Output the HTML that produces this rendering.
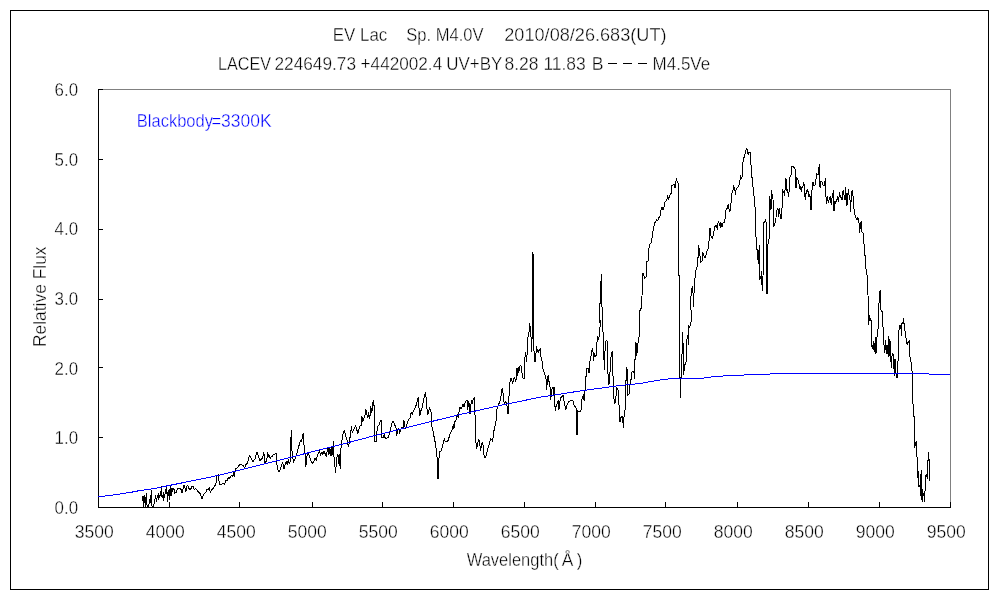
<!DOCTYPE html>
<html><head><meta charset="utf-8"><title>EV Lac spectrum</title>
<style>
html,body{margin:0;padding:0;background:#fff;}
body{width:1000px;height:600px;overflow:hidden;}
svg{display:block;}
text{font-family:"Liberation Sans",sans-serif;}
.thin{opacity:0.999;}
.thin text{stroke:#fff;stroke-width:0.35px;}
</style></head><body>
<svg width="1000" height="600" viewBox="0 0 1000 600">
<rect x="0" y="0" width="1000" height="600" fill="#fff"/>
<g shape-rendering="crispEdges">
<rect x="10.5" y="10.5" width="978" height="579" fill="none" stroke="#000" stroke-width="1"/>
<rect x="98" y="89" width="853" height="1" fill="#808080"/>
<rect x="950" y="89" width="1" height="419" fill="#808080"/>
<rect x="98" y="89" width="1" height="419" fill="#000"/>
<rect x="98" y="507" width="853" height="1" fill="#000"/>
<rect x="169" y="502" width="1" height="5"/><rect x="239" y="502" width="1" height="5"/><rect x="312" y="502" width="1" height="5"/><rect x="382" y="502" width="1" height="5"/><rect x="453" y="502" width="1" height="5"/><rect x="524" y="502" width="1" height="5"/><rect x="595" y="502" width="1" height="5"/><rect x="665" y="502" width="1" height="5"/><rect x="737" y="502" width="1" height="5"/><rect x="808" y="502" width="1" height="5"/><rect x="879" y="502" width="1" height="5"/><rect x="950" y="502" width="1" height="5"/><rect x="99" y="437" width="4" height="1"/><rect x="99" y="367" width="4" height="1"/><rect x="99" y="299" width="4" height="1"/><rect x="99" y="229" width="4" height="1"/><rect x="99" y="159" width="4" height="1"/><rect x="99" y="89" width="4" height="1"/>
<rect x="608" y="63" width="9" height="1"/><rect x="623" y="63" width="9" height="1"/><rect x="638" y="63" width="9" height="1"/>
</g>
<polyline shape-rendering="crispEdges" fill="none" stroke="#000" stroke-width="1" stroke-linejoin="miter" points="142.5,495.5 142.5,501.0 143.5,496.0 143.8,506.5 144.5,495.5 145.5,499.0 145.8,506.5 146.5,493.0 146.8,504.0 147.5,506.5 148.5,506.0 149.5,502.0 150.5,495.5 150.5,503.0 151.5,490.0 151.5,505.0 152.5,506.5 153.5,506.5 154.5,502.0 155.5,497.0 156.5,500.0 157.5,496.0 158.5,493.5 158.5,500.0 159.5,496.0 160.5,495.0 161.5,486.5 161.5,496.0 162.5,497.0 163.5,492.5 163.5,501.0 164.5,496.0 165.5,492.0 166.5,486.5 166.5,493.0 167.5,492.5 167.5,502.0 168.5,491.0 169.5,489.5 169.5,500.0 170.5,486.5 170.5,496.0 171.5,488.5 171.5,496.0 172.5,488.5 173.5,489.0 174.5,489.5 174.5,493.0 176.5,492.5 177.5,488.5 178.5,488.5 180.5,489.0 181.5,490.0 181.5,493.0 182.5,491.0 182.5,493.0 183.5,485.5 184.5,485.5 185.8,492.3 187.0,485.7 188.2,486.0 189.2,489.0 190.8,489.3 191.8,486.0 193.0,486.0 194.2,489.3 195.7,488.7 197.2,490.5 198.7,492.3 200.2,493.5 201.2,496.5 202.0,499.1 203.2,495.0 204.2,493.5 205.8,492.8 206.8,489.8 208.0,489.3 209.2,488.2 210.4,492.3 211.8,489.8 212.9,488.7 214.0,486.8 215.2,485.2 216.2,482.2 217.0,476.2 218.2,474.8 218.8,480.0 219.7,484.2 221.5,484.2 223.0,483.8 224.5,484.2 226.0,480.0 227.2,480.8 228.2,477.8 229.3,478.5 230.5,476.7 231.7,475.2 232.8,476.2 233.8,473.2 234.6,477.0 235.0,471.0 235.8,468.8 237.2,467.7 238.8,465.8 240.2,464.2 241.8,464.7 243.2,465.8 244.8,467.7 245.5,465.0 247.0,463.5 248.2,460.5 249.2,455.7 250.3,456.0 251.5,459.3 253.0,462.3 254.2,459.8 255.4,458.7 256.4,452.7 257.5,452.7 258.7,457.5 259.9,460.8 261.2,459.3 262.8,457.8 263.5,452.2 264.2,454.8 265.0,463.5 266.5,460.5 267.7,453.8 268.8,456.0 269.8,455.2 270.0,458.2 271.5,457.5 273.0,454.8 275.2,453.8 276.3,453.8 276.8,463.5 278.2,471.0 279.8,471.0 280.8,467.2 281.7,465.0 282.8,462.0 283.8,469.2 285.0,465.0 286.2,462.0 287.2,464.2 288.3,460.2 289.2,463.5 290.2,462.0 290.7,442.5 291.4,430.5 291.9,450.0 292.5,457.5 293.7,462.0 294.8,459.8 295.8,456.8 297.0,453.0 298.2,448.5 299.2,444.8 300.4,441.0 301.5,441.8 302.7,435.0 303.3,433.5 303.8,444.0 304.5,448.5 305.4,457.5 305.7,467.2 306.4,462.0 307.2,454.5 308.2,453.0 309.3,456.0 310.5,459.8 311.7,462.0 312.8,463.2 313.8,462.0 315.0,458.2 316.2,459.8 317.2,456.0 318.3,453.8 319.5,451.5 320.7,454.8 321.8,452.2 322.8,454.2 324.0,451.5 325.2,453.8 326.2,456.0 327.3,450.0 328.2,447.8 328.9,455.2 329.7,447.8 330.4,456.0 331.2,447.0 331.9,456.0 332.7,450.0 333.4,441.0 333.9,456.0 334.8,465.0 335.6,473.2 336.4,462.0 337.2,456.0 337.9,453.8 338.7,463.5 339.4,454.5 340.2,468.8 340.8,450.0 341.7,442.5 342.8,435.0 343.8,431.2 344.6,430.5 345.4,435.0 346.5,438.0 347.6,441.8 348.4,447.0 349.5,441.0 350.6,433.5 351.4,426.0 352.2,432.8 353.2,430.5 354.3,428.2 355.5,426.0 356.7,429.0 357.8,434.2 358.8,429.8 360.0,426.0 361.2,425.2 361.9,416.2 362.7,422.2 363.8,418.5 364.8,417.0 365.7,408.8 366.8,414.0 367.8,417.8 368.7,412.5 369.4,418.5 370.2,414.8 370.8,406.5 371.7,412.5 372.4,408.8 373.2,399.8 373.9,402.8 374.6,420.0 374.6,441.0 376.2,441.0 376.8,432.0 377.7,426.0 378.8,425.2 379.9,422.2 381.0,420.0 381.4,429.0 381.8,437.2 383.2,437.7 384.3,434.2 385.2,438.3 386.7,438.0 388.5,437.2 389.7,432.8 390.8,427.5 391.8,423.8 393.0,421.5 394.2,423.0 395.2,426.0 396.3,429.0 396.8,435.8 397.5,430.5 398.7,429.0 399.8,432.8 400.8,429.8 402.0,426.8 403.2,427.5 403.9,420.0 404.7,424.5 405.4,429.0 406.5,425.2 407.7,422.2 409.2,418.5 410.0,417.8 411.2,412.5 412.2,414.0 413.3,411.0 414.5,409.5 415.7,406.5 416.8,402.8 418.2,397.5 419.0,408.0 419.8,415.5 420.8,411.0 422.0,408.0 423.2,402.0 424.2,396.8 425.4,392.2 426.2,399.0 426.9,408.0 427.7,414.8 428.8,411.0 429.5,408.0 430.6,409.5 431.3,414.0 431.8,426.0 432.8,429.8 433.7,435.0 434.8,440.2 435.8,446.2 436.7,454.5 437.4,460.5 437.8,478.5 438.2,478.5 438.5,463.5 439.2,456.0 440.0,451.5 441.2,450.8 442.2,447.8 443.3,443.2 444.5,438.0 445.2,441.8 446.8,441.8 448.2,440.2 449.8,435.0 451.2,431.2 452.8,428.2 453.2,423.8 453.9,429.0 455.0,421.5 456.2,420.0 457.2,414.8 458.3,417.8 459.2,411.0 459.9,407.2 461.0,408.8 462.1,406.5 463.2,404.2 464.0,406.5 465.1,402.8 466.2,400.5 467.0,399.8 467.8,409.5 468.5,401.2 469.2,404.2 470.0,414.0 470.8,405.8 471.5,400.5 472.2,404.2 473.3,399.0 474.5,397.5 474.9,412.5 475.6,427.5 476.0,442.5 476.8,448.5 477.5,444.0 478.7,438.8 479.8,443.2 480.5,450.8 481.7,444.0 482.8,442.5 483.5,449.2 484.2,457.5 485.0,458.2 486.2,456.0 487.2,451.5 488.3,447.0 489.5,443.2 490.7,438.8 491.8,439.5 492.5,441.0 493.2,436.5 494.0,430.5 495.2,425.2 496.2,420.0 496.8,410.0 498.2,405.5 499.8,401.8 500.8,398.0 501.7,390.5 502.4,388.2 503.2,395.0 504.2,403.2 505.8,401.8 506.8,404.0 507.9,414.1 508.6,410.0 509.2,389.0 509.9,383.0 510.7,378.5 511.8,379.2 512.5,383.8 513.7,378.5 514.8,377.8 515.8,381.5 516.7,376.2 517.0,368.0 517.8,375.5 518.5,367.2 519.2,371.0 520.0,365.8 520.8,365.0 521.8,371.8 523.0,377.8 524.2,378.5 524.8,359.0 525.4,352.2 526.0,356.8 526.8,362.0 527.5,338.8 528.2,336.5 529.0,332.0 529.8,323.0 530.5,331.2 531.2,339.5 531.7,351.5 532.5,320.0 532.5,252.5 533.5,256.0 533.8,320.0 533.8,347.0 534.2,354.5 535.0,362.0 535.8,356.0 536.5,346.2 537.2,350.0 538.3,352.2 539.2,350.0 540.2,349.2 540.7,356.0 541.8,359.8 542.5,365.0 543.2,370.2 544.3,372.5 545.5,377.0 546.2,380.0 546.7,389.8 547.5,378.5 548.2,375.5 549.0,381.5 549.7,384.5 550.5,390.5 550.8,399.5 551.5,392.0 552.2,388.2 553.0,386.8 553.8,395.0 554.2,386.8 554.8,405.5 555.5,411.0 556.2,405.0 557.3,403.5 558.2,399.8 559.0,409.5 559.7,402.0 560.8,397.5 561.8,396.8 563.0,395.2 563.8,400.5 564.8,405.0 565.7,409.5 566.8,405.8 567.8,403.5 569.3,401.2 570.8,400.5 572.3,400.2 573.5,401.2 574.2,405.8 575.8,407.2 576.5,411.0 576.8,434.2 577.7,434.2 578.0,411.0 579.2,411.8 580.7,411.8 581.8,406.5 581.2,401.8 582.2,398.0 583.3,395.8 584.2,401.0 584.8,390.5 585.5,389.0 586.3,369.5 587.2,368.0 588.2,368.8 589.0,373.2 589.8,362.0 590.8,357.5 591.7,351.5 592.8,347.8 593.5,360.5 594.2,353.0 595.0,356.8 596.2,355.2 597.0,342.5 597.7,336.5 598.5,340.2 599.2,335.8 600.0,327.5 600.7,320.0 599.5,322.0 599.5,304.0 600.5,303.0 600.5,287.0 601.5,274.5 601.6,305.0 602.5,309.0 602.8,326.0 603.7,350.0 604.3,369.5 605.2,347.0 606.0,341.0 607.0,340.2 607.5,365.0 608.2,377.0 609.0,384.5 609.7,378.5 610.3,366.5 611.2,354.5 612.2,351.5 612.7,365.0 613.3,386.0 613.8,398.0 614.8,404.0 615.7,401.0 616.5,387.5 617.5,388.2 618.2,390.5 618.8,403.5 619.7,411.0 620.0,422.2 620.8,417.8 621.8,416.2 622.7,417.8 623.3,427.5 624.0,417.0 624.8,412.5 625.5,405.0 625.8,384.5 626.7,367.2 627.5,371.0 627.8,395.0 629.2,393.5 630.0,384.5 631.2,378.5 632.0,371.8 633.8,371.0 634.5,378.5 634.2,362.0 635.2,359.0 636.0,342.5 636.8,356.0 637.5,347.0 638.2,341.0 639.3,335.0 639.8,320.0 639.8,311.0 641.2,308.0 642.0,296.0 642.5,273.5 643.5,273.5 644.5,278.0 646.0,277.2 646.5,262.2 648.0,260.8 648.8,248.8 649.5,245.0 651.0,242.8 652.2,237.5 653.2,230.0 654.5,223.2 656.0,221.0 656.8,219.5 657.8,221.0 658.7,218.0 660.2,215.8 660.8,210.5 662.0,207.5 663.2,209.8 664.2,206.8 665.0,202.2 666.5,200.8 667.7,196.2 668.8,199.2 669.5,195.5 671.3,193.2 671.8,185.8 673.2,184.7 674.3,184.2 675.0,188.0 675.8,182.0 676.5,179.3 677.5,182.0 678.5,183.5 678.5,184.0 678.5,275.0 679.5,276.0 679.5,377.0 680.5,378.0 680.5,397.5 680.5,397.7 681.0,380.0 681.8,363.5 682.5,332.0 683.0,342.5 683.7,374.8 684.5,365.0 685.8,363.5 686.7,357.5 687.0,339.5 687.8,335.0 688.5,344.8 688.8,326.0 689.7,327.5 690.8,323.8 691.2,320.0 690.8,299.0 691.5,288.5 692.7,287.0 693.8,307.2 694.2,282.5 695.2,276.5 695.7,270.5 697.2,266.8 698.2,255.5 698.7,245.0 699.5,252.5 700.8,262.2 702.0,260.8 702.8,252.5 703.5,254.8 705.0,257.8 706.5,254.0 707.2,249.5 708.8,248.0 709.2,236.0 710.0,227.8 710.5,234.5 711.0,236.0 712.2,238.2 713.2,235.2 714.0,230.8 714.5,227.0 716.0,225.5 717.2,228.5 718.2,221.8 719.0,223.2 720.2,226.2 720.8,221.8 722.0,227.0 722.8,223.2 724.2,222.5 725.0,219.5 725.8,210.5 727.2,208.2 728.3,203.8 729.5,212.0 730.5,209.0 731.0,203.0 731.8,193.2 732.8,191.8 733.5,185.8 734.5,188.0 735.5,194.8 736.2,188.8 737.8,187.2 739.2,185.0 740.0,179.8 740.8,176.0 741.5,178.2 742.7,176.0 743.0,162.5 744.2,156.5 745.2,153.5 746.5,148.6 747.5,150.2 748.2,155.0 749.0,152.0 750.2,152.8 750.8,162.5 751.7,174.5 752.8,185.0 753.8,194.0 754.7,203.0 755.5,212.0 755.8,230.0 755.8,235.0 756.7,244.0 757.3,254.5 758.5,263.5 759.2,244.8 759.2,279.2 760.8,277.8 761.5,271.0 762.2,290.5 763.0,277.0 763.8,223.0 763.5,222.8 764.8,222.0 765.5,219.3 766.2,223.5 767.0,240.0 766.0,223.0 766.8,293.5 767.5,293.5 767.8,244.8 769.0,239.5 769.8,220.0 769.5,214.5 769.5,196.5 770.5,201.0 771.0,210.0 771.5,190.5 772.2,195.0 773.0,198.8 773.3,216.0 773.8,226.5 774.8,223.5 775.7,220.5 776.5,213.0 777.2,208.5 778.2,209.2 778.7,216.8 779.8,208.5 780.2,219.0 781.2,218.2 781.7,208.5 782.5,207.0 782.8,190.5 783.8,192.0 784.5,195.8 785.3,186.0 785.8,178.5 786.5,180.0 787.0,191.2 787.7,189.8 788.5,197.2 789.2,189.8 789.8,177.0 791.0,175.5 791.8,166.5 792.8,166.5 793.7,167.2 794.8,168.8 795.5,169.5 796.0,188.2 796.7,177.8 797.8,179.2 798.8,181.5 799.5,189.0 800.5,186.0 801.2,192.0 802.0,187.5 803.0,186.0 803.8,182.2 804.5,189.8 805.2,199.5 806.0,193.5 807.2,189.8 808.2,192.0 809.0,196.5 809.8,194.2 810.5,199.5 811.0,210.0 811.7,195.0 812.0,190.5 813.0,182.2 814.0,186.0 815.0,185.2 816.0,179.2 816.8,174.0 818.0,174.8 818.8,168.0 819.5,164.2 819.5,182.2 820.2,188.2 821.0,181.5 822.2,182.2 823.2,186.0 824.3,185.2 825.5,178.5 825.8,195.0 826.7,204.0 827.5,196.5 828.5,203.2 829.5,197.2 830.5,196.5 831.2,204.8 832.0,198.0 833.0,193.5 833.5,190.5 834.0,210.8 834.8,201.0 835.7,203.2 836.8,199.5 837.5,196.5 838.2,201.8 839.0,197.2 839.5,192.0 840.2,195.8 841.2,198.0 842.0,200.2 842.5,191.2 843.5,190.5 844.2,196.5 845.0,200.2 845.5,186.8 846.2,195.0 846.8,206.2 847.5,201.0 848.3,189.0 849.0,195.0 850.0,199.5 850.7,211.5 851.3,193.5 852.2,190.5 853.0,195.8 853.7,206.2 854.8,214.5 855.8,217.5 857.0,219.8 857.8,216.8 858.5,220.5 859.2,223.5 859.7,232.5 860.5,225.0 861.2,221.2 861.8,231.8 863.0,233.2 863.8,242.5 864.7,250.0 865.5,263.5 866.5,274.0 867.2,275.5 868.0,295.0 868.5,325.0 869.0,314.5 870.0,321.2 870.8,319.0 871.5,322.0 871.8,346.0 872.7,349.0 873.3,341.5 874.2,352.0 874.8,346.0 875.5,337.0 876.0,353.5 876.8,340.0 877.5,331.0 878.2,328.0 878.7,307.8 879.5,295.0 880.2,289.8 880.5,309.2 881.2,310.8 882.5,311.5 882.8,326.5 883.5,328.0 884.0,344.5 884.7,352.8 885.5,340.0 886.2,353.5 887.0,345.2 887.7,354.2 888.3,336.2 889.0,356.5 889.5,339.2 890.2,341.5 890.7,356.5 891.3,367.8 892.0,355.8 892.8,353.5 893.5,356.8 894.3,375.5 895.0,359.0 895.8,373.2 897.0,377.8 897.8,369.5 898.2,353.0 899.2,325.0 900.0,325.0 900.8,326.5 901.5,336.2 902.0,323.5 903.0,322.0 903.5,318.2 904.0,323.5 904.5,323.5 905.0,331.0 906.0,337.8 906.8,343.0 907.5,345.2 908.2,341.5 909.5,340.8 909.8,356.5 910.8,361.0 911.7,364.0 912.0,371.0 912.5,380.0 912.8,402.5 913.5,407.0 913.8,416.0 914.5,417.5 914.5,425.0 914.5,447.5 915.5,443.8 916.2,441.5 916.5,456.5 917.5,457.2 917.7,478.2 918.5,471.5 918.8,486.5 920.0,485.8 920.5,473.8 920.5,496.2 921.5,470.0 921.8,497.8 922.2,501.5 922.8,489.5 923.2,495.5 924.0,494.0 924.5,501.5 924.8,491.0 925.5,490.2 925.8,476.0 926.7,474.5 927.3,479.0 927.5,461.0 928.2,460.2 928.5,452.0 929.0,461.0 929.5,460.2 929.5,481.2"/>
<polyline shape-rendering="crispEdges" fill="none" stroke="#0000ff" stroke-width="1" points="98.0,497.0 101.0,496.5 109.5,495.5 117.0,494.5 123.0,493.5 130.0,492.5 135.0,491.5 140.0,490.5 147.5,489.5 154.5,488.5 159.5,487.5 164.0,486.5 169.0,485.5 174.0,484.5 179.0,483.5 184.0,482.5 218.4,475.4 260.0,465.0 300.0,454.9 340.0,444.8 380.0,434.2 420.0,424.3 460.0,414.5 500.0,405.5 540.0,397.2 580.0,391.0 620.0,385.5 640.0,383.5 645.0,382.6 650.4,381.6 656.0,380.6 662.4,379.6 673.0,378.5 701.0,378.4 707.0,377.5 716.0,376.5 731.0,375.5 758.0,374.5 773.0,373.9 800.0,373.5 928.5,373.5 929.5,374.5 950.0,374.5"/>
<g class="thin">
<text x="332.8" y="41" font-size="17.5" fill="#000" text-anchor="start" textLength="54.5" lengthAdjust="spacingAndGlyphs">EV Lac</text><text x="406.3" y="41" font-size="17.5" fill="#000" text-anchor="start" textLength="77.2" lengthAdjust="spacingAndGlyphs">Sp. M4.0V</text><text x="504.3" y="41" font-size="17.5" fill="#000" text-anchor="start" textLength="162.2" lengthAdjust="spacingAndGlyphs">2010/08/26.683(UT)</text><text x="218" y="70" font-size="17.5" fill="#000" text-anchor="start" textLength="53" lengthAdjust="spacingAndGlyphs">LACEV</text><text x="274.5" y="70" font-size="17.5" fill="#000" text-anchor="start" textLength="81.5" lengthAdjust="spacingAndGlyphs">224649.73</text><text x="360.6" y="70" font-size="17.5" fill="#000" text-anchor="start" textLength="81.6" lengthAdjust="spacingAndGlyphs">+442002.4</text><text x="446.3" y="70" font-size="17.5" fill="#000" text-anchor="start" textLength="56" lengthAdjust="spacingAndGlyphs">UV+BY</text><text x="504.5" y="70" font-size="17.5" fill="#000" text-anchor="start" textLength="34" lengthAdjust="spacingAndGlyphs">8.28</text><text x="543.4" y="70" font-size="17.5" fill="#000" text-anchor="start" textLength="42.4" lengthAdjust="spacingAndGlyphs">11.83</text><text x="591.8" y="70" font-size="17.5" fill="#000" text-anchor="start" textLength="11.8" lengthAdjust="spacingAndGlyphs">B</text><text x="652.6" y="70" font-size="17.5" fill="#000" text-anchor="start" textLength="57.6" lengthAdjust="spacingAndGlyphs">M4.5Ve</text>
<text x="74.8" y="538" font-size="17.5" fill="#000" text-anchor="start" textLength="39" lengthAdjust="spacingAndGlyphs">3500</text><text x="145.8" y="538" font-size="17.5" fill="#000" text-anchor="start" textLength="39" lengthAdjust="spacingAndGlyphs">4000</text><text x="216.8" y="538" font-size="17.5" fill="#000" text-anchor="start" textLength="39" lengthAdjust="spacingAndGlyphs">4500</text><text x="287.8" y="538" font-size="17.5" fill="#000" text-anchor="start" textLength="39" lengthAdjust="spacingAndGlyphs">5000</text><text x="358.8" y="538" font-size="17.5" fill="#000" text-anchor="start" textLength="39" lengthAdjust="spacingAndGlyphs">5500</text><text x="429.8" y="538" font-size="17.5" fill="#000" text-anchor="start" textLength="39" lengthAdjust="spacingAndGlyphs">6000</text><text x="500.8" y="538" font-size="17.5" fill="#000" text-anchor="start" textLength="39" lengthAdjust="spacingAndGlyphs">6500</text><text x="571.8" y="538" font-size="17.5" fill="#000" text-anchor="start" textLength="39" lengthAdjust="spacingAndGlyphs">7000</text><text x="642.8" y="538" font-size="17.5" fill="#000" text-anchor="start" textLength="39" lengthAdjust="spacingAndGlyphs">7500</text><text x="713.8" y="538" font-size="17.5" fill="#000" text-anchor="start" textLength="39" lengthAdjust="spacingAndGlyphs">8000</text><text x="784.8" y="538" font-size="17.5" fill="#000" text-anchor="start" textLength="39" lengthAdjust="spacingAndGlyphs">8500</text><text x="855.8" y="538" font-size="17.5" fill="#000" text-anchor="start" textLength="39" lengthAdjust="spacingAndGlyphs">9000</text><text x="926.8" y="538" font-size="17.5" fill="#000" text-anchor="start" textLength="39" lengthAdjust="spacingAndGlyphs">9500</text>
<text x="54.6" y="514" font-size="17.5" fill="#000" text-anchor="start" textLength="23.5" lengthAdjust="spacingAndGlyphs">0.0</text><text x="54.6" y="444" font-size="17.5" fill="#000" text-anchor="start" textLength="23.5" lengthAdjust="spacingAndGlyphs">1.0</text><text x="54.6" y="375" font-size="17.5" fill="#000" text-anchor="start" textLength="23.5" lengthAdjust="spacingAndGlyphs">2.0</text><text x="54.6" y="305" font-size="17.5" fill="#000" text-anchor="start" textLength="23.5" lengthAdjust="spacingAndGlyphs">3.0</text><text x="54.6" y="235" font-size="17.5" fill="#000" text-anchor="start" textLength="23.5" lengthAdjust="spacingAndGlyphs">4.0</text><text x="54.6" y="166" font-size="17.5" fill="#000" text-anchor="start" textLength="23.5" lengthAdjust="spacingAndGlyphs">5.0</text><text x="54.6" y="96" font-size="17.5" fill="#000" text-anchor="start" textLength="23.5" lengthAdjust="spacingAndGlyphs">6.0</text>
<text x="136.8" y="127" font-size="17.5" fill="#0000ff" text-anchor="start" textLength="76.2" lengthAdjust="spacingAndGlyphs">Blackbody</text><text x="211.6" y="127" font-size="17.5" fill="#0000ff" text-anchor="start" textLength="9.6" lengthAdjust="spacingAndGlyphs">=</text><text x="221.0" y="127" font-size="17.5" fill="#0000ff" text-anchor="start" textLength="50.6" lengthAdjust="spacingAndGlyphs">3300K</text>
<text x="466.7" y="566" font-size="17.5" fill="#000" text-anchor="start" textLength="92" lengthAdjust="spacingAndGlyphs">Wavelength(</text>
<text x="561.7" y="566" font-size="17.5" fill="#000" text-anchor="start" textLength="11.6" lengthAdjust="spacingAndGlyphs">Å</text>
<text x="576.8" y="566" font-size="17.5" fill="#000" text-anchor="start" textLength="5.6" lengthAdjust="spacingAndGlyphs">)</text>
<text transform="translate(46,347) rotate(-90)" font-size="17.5" textLength="100.5" lengthAdjust="spacingAndGlyphs">Relative Flux</text>
</g>
</svg>
</body></html>
